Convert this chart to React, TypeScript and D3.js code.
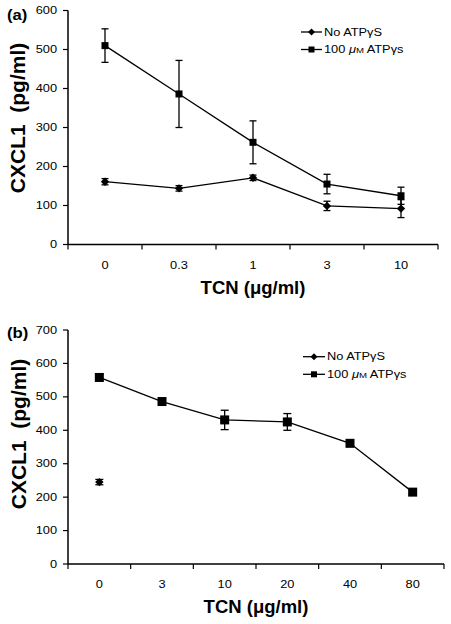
import React from "react";
import * as d3 from "d3";

// ---------- Data ----------
const catsA = ["0", "0.3", "1", "3", "10"];
const noAtpA = [161, 144, 171, 99, 92];
const noAtpErrA = [8, 7, 7, 12, 23];
const atpA = [510, 386, 262, 155, 125];
const atpErrA = [43, 86, 55, 25, 22];
const yTicksA = [0, 100, 200, 300, 400, 500, 600];

const catsB = ["0", "3", "10", "20", "40", "80"];
const noAtpB: (number | null)[] = [245, null, null, null, null, null];
const noAtpErrB = [8, 0, 0, 0, 0, 0];
const atpB = [558, 486, 431, 425, 361, 215];
const atpErrB = [10, 8, 29, 25, 8, 8];
const yTicksB = [0, 100, 200, 300, 400, 500, 600, 700];

const legendLabels = ["No ATPγS", "100 μM ATPγs"];
const xTitle = "TCN (μg/ml)";
const yTitle = "CXCL1\u00a0\u00a0(pg/ml)";

const FONT = "'Liberation Sans', Arial, Helvetica, sans-serif";
const SX = 1.28;

function diamondPath(r: number) {
  return `M0,${-r}L${r},0L0,${r}L${-r},0Z`;
}

type PanelProps = {
  label: string;
  cats: string[];
  noAtp: (number | null)[];
  noAtpErr: number[];
  atp: number[];
  atpErr: number[];
  yTicks: number[];
  yMax: number;
  x0: number;
  x1: number;
  yTop: number;
  yBottom: number;
  sq: number;
  cap: number;
  labelY: number;
  xLabelBaseline: number;
  xTitleBaseline: number;
  yTitleCenter: number;
  yTitleX: number;
  legendX0: number;
  legendX1: number;
  legendTextX: number;
  legendRows: [number, number];
};

function Regular({ x, y, anchor, children }: any) {
  return (
    <g transform={`translate(${x},${y}) scale(${SX},1)`}>
      <text x={0} y={0} textAnchor={anchor} fontFamily={FONT} fontSize={10} fill="#000">
        {children}
      </text>
    </g>
  );
}

function Panel(p: PanelProps) {
  const x = d3.scaleBand<string>().domain(p.cats).range([p.x0, p.x1]);
  const y = d3.scaleLinear().domain([0, p.yMax]).range([p.yBottom, p.yTop]);
  const cx = (c: string) => (x(c) as number) + x.bandwidth() / 2;

  const lineGen = d3
    .line<{ c: string; v: number | null }>()
    .defined((d) => d.v !== null)
    .x((d) => cx(d.c))
    .y((d) => y(d.v as number));

  const atpPts = p.cats.map((c, i) => ({ c, v: p.atp[i] as number | null }));
  const noPts = p.cats.map((c, i) => ({ c, v: p.noAtp[i] }));

  const bounds = p.cats.map((c) => x(c) as number).concat([p.x1]);

  const errBar = (c: string, v: number, e: number, key: string) => {
    const px = cx(c);
    const hw = p.cap / 2;
    return (
      <g key={key} stroke="#000" strokeWidth={1.3}>
        <line x1={px} x2={px} y1={y(v - e)} y2={y(v + e)} />
        <line x1={px - hw} x2={px + hw} y1={y(v + e)} y2={y(v + e)} />
        <line x1={px - hw} x2={px + hw} y1={y(v - e)} y2={y(v - e)} />
      </g>
    );
  };

  return (
    <g>
      {/* panel label */}
      <g transform={`translate(7,${p.labelY}) scale(1.15,1)`}>
        <text x={0} y={0} fontFamily={FONT} fontWeight="bold" fontSize={14.5}>
          {p.label}
        </text>
      </g>
      {/* y axis */}
      <line x1={p.x0} x2={p.x0} y1={y(p.yMax)} y2={p.yBottom} stroke="#000" strokeWidth={1.5} />
      {p.yTicks.map((t) => (
        <g key={"yt" + t}>
          <line x1={p.x0 - 5} x2={p.x0} y1={y(t)} y2={y(t)} stroke="#000" strokeWidth={1.2} />
          <Regular x={57} y={y(t) + 3.6} anchor="end">
            {t}
          </Regular>
        </g>
      ))}
      {/* x axis */}
      <line x1={p.x0} x2={p.x1} y1={p.yBottom} y2={p.yBottom} stroke="#000" strokeWidth={1.5} />
      {bounds.map((b, i) => (
        <line key={"xt" + i} x1={b} x2={b} y1={p.yBottom} y2={p.yBottom + 5} stroke="#000" strokeWidth={1.2} />
      ))}
      {p.cats.map((c) => (
        <Regular key={"xl" + c} x={cx(c)} y={p.xLabelBaseline} anchor="middle">
          {c}
        </Regular>
      ))}
      {/* titles */}
      <text
        x={(p.x0 + p.x1) / 2}
        y={p.xTitleBaseline}
        textAnchor="middle"
        fontFamily={FONT}
        fontWeight="bold"
        fontSize={18.5}
      >
        {xTitle}
      </text>
      <text
        transform={`translate(${p.yTitleX},${p.yTitleCenter}) rotate(-90)`}
        textAnchor="middle"
        dominantBaseline="central"
        fontFamily={FONT}
        fontWeight="bold"
        fontSize={21}
      >
        {yTitle}
      </text>
      {/* lines */}
      <path d={lineGen(noPts) || ""} fill="none" stroke="#000" strokeWidth={1.3} />
      <path d={lineGen(atpPts) || ""} fill="none" stroke="#000" strokeWidth={1.3} />
      {/* error bars */}
      {noPts.map((d, i) => (d.v !== null && p.noAtpErr[i] > 0 ? errBar(d.c, d.v, p.noAtpErr[i], "ne" + i) : null))}
      {atpPts.map((d, i) => (d.v !== null ? errBar(d.c, d.v as number, p.atpErr[i], "ae" + i) : null))}
      {/* markers */}
      {noPts.map((d, i) =>
        d.v !== null ? (
          <path key={"nm" + i} d={diamondPath(4.2)} transform={`translate(${cx(d.c)},${y(d.v)})`} fill="#000" />
        ) : null
      )}
      {atpPts.map((d, i) => (
        <rect
          key={"am" + i}
          x={cx(d.c) - p.sq / 2}
          y={y(d.v as number) - p.sq / 2}
          width={p.sq}
          height={p.sq}
          fill="#000"
        />
      ))}
      {/* legend */}
      {legendLabels.map((lab, i) => {
        const ly = p.legendRows[i];
        const mx = (p.legendX0 + p.legendX1) / 2;
        return (
          <g key={"lg" + i}>
            <line x1={p.legendX0} x2={p.legendX1} y1={ly} y2={ly} stroke="#000" strokeWidth={1.3} />
            {i === 0 ? (
              <path d={diamondPath(3.5)} transform={`translate(${mx},${ly})`} fill="#000" />
            ) : (
              <rect x={mx - 3} y={ly - 3} width={6} height={6} fill="#000" />
            )}
            <g transform={`translate(${p.legendTextX},${ly + 3.7}) scale(${SX},1)`}>
              <text x={0} y={0} fontFamily={FONT} fontSize={10} fill="#000">
                {i === 0 ? (
                  lab
                ) : (
                  <>
                    {"100 "}
                    <tspan fontStyle="italic">μ</tspan>
                    <tspan fontSize={7.5}>M</tspan>
                    {" ATPγs"}
                  </>
                )}
              </text>
            </g>
          </g>
        );
      })}
    </g>
  );
}

export default function App() {
  return (
    <svg
      width={451}
      height={624}
      viewBox="0 0 451 624"
      style={{ position: "absolute", left: 0, top: 0, background: "#fff" }}
    >
      <rect x={0} y={0} width={451} height={624} fill="#fff" />
      <Panel
        label="(a)"
        cats={catsA}
        noAtp={noAtpA}
        noAtpErr={noAtpErrA}
        atp={atpA}
        atpErr={atpErrA}
        yTicks={yTicksA}
        yMax={600}
        x0={68}
        x1={438}
        yTop={10.5}
        yBottom={244.5}
        sq={7}
        cap={7}
        labelY={19.5}
        xLabelBaseline={268.5}
        xTitleBaseline={294}
        yTitleCenter={118}
        yTitleX={17}
        legendX0={301}
        legendX1={322}
        legendTextX={324}
        legendRows={[32, 49.5]}
      />
      <Panel
        label="(b)"
        cats={catsB}
        noAtp={noAtpB}
        noAtpErr={noAtpErrB}
        atp={atpB}
        atpErr={atpErrB}
        yTicks={yTicksB}
        yMax={700}
        x0={68}
        x1={444}
        yTop={330}
        yBottom={564}
        sq={9}
        cap={8}
        labelY={338}
        xLabelBaseline={588}
        xTitleBaseline={613}
        yTitleCenter={434}
        yTitleX={18}
        legendX0={303}
        legendX1={325}
        legendTextX={327}
        legendRows={[356.7, 374.3]}
      />
    </svg>
  );
}
